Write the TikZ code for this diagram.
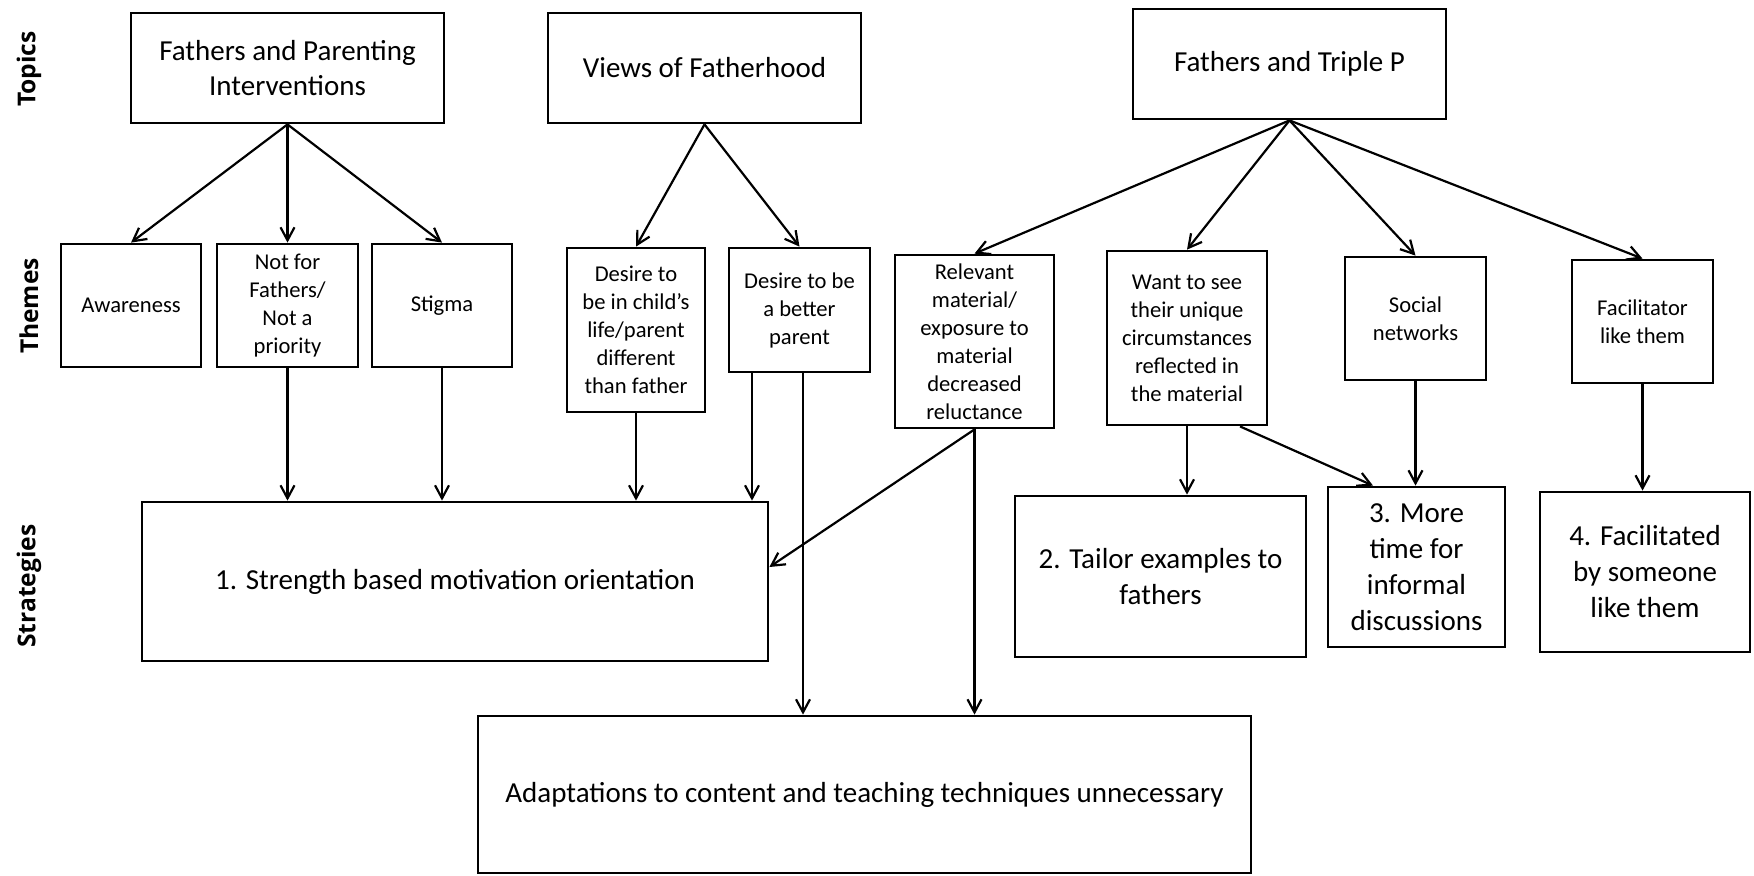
\documentclass[tikz,border=0pt]{standalone}
\usepackage{fontspec}
\setmainfont{Carlito}
\newfontfamily\labelfont{Open Sans}
\usetikzlibrary{arrows.meta, positioning}

\tikzset{
  box/.style={draw, line width=1.4pt, align=center, inner sep=2pt},
  boxsize/.style 2 args={minimum width=#1*0.5pt, minimum height=#2*0.5pt},
  topic/.style={box, font=\fontsize{14.5}{17.5}\selectfont},
  theme/.style={box, font=\fontsize{11.3}{14}\selectfont},
  strategy/.style={box, font=\fontsize{14.5}{18}\selectfont},
  rowlabel/.style={rotate=90, font=\labelfont\fontsize{12.3}{14}\selectfont\bfseries},
  link/.style={->, line width=1.1pt},
}

\begin{document}
\begin{tikzpicture}[x=0.5pt, y=-0.5pt, >={Straight Barb[length=6.5pt, width=7pt]}]
\useasboundingbox (0,0) rectangle (1754,875);

% Row labels
\node[rowlabel] (lbltopics) at (29,69) {Topics};
\node[rowlabel] (lblthemes) at (29,306) {Themes};
\node[rowlabel] (lblstrat) at (29,586) {Strategies};

% Topics
\node[topic, boxsize={313}{110}] (fpi) at (287.5,68) {Fathers and Parenting\\Interventions};
\node[topic, boxsize={313}{110}] (vof) at (704.5,68) {Views of Fatherhood};
\node[topic, boxsize={313}{110}] (ftp) at (1289.5,64) {Fathers and Triple P};

% Themes
\node[theme, boxsize={140}{123}] (aware) at (131,305.5) {Awareness};
\node[theme, boxsize={141}{123}] (notfor) at (287.5,305.5) {Not for\\Fathers/\\Not a\\priority};
\node[theme, boxsize={140}{123}] (stigma) at (442,305.5) {Stigma};
\node[theme, boxsize={138}{164}] (dchild) at (636,330) {Desire to\\be in child’s\\life/parent\\different\\than father};
\node[theme, boxsize={141}{124}] (dbetter) at (799.5,310) {Desire to be\\a better\\parent};
\node[theme, boxsize={159}{173}] (relev) at (974.5,341.5) {Relevant\\material/\\exposure to\\material\\decreased\\reluctance};
\node[theme, boxsize={160}{174}] (want) at (1187,338) {Want to see\\their unique\\circumstances\\reflected in\\the material};
\node[theme, boxsize={141}{123}] (social) at (1415.5,318.5) {Social\\networks};
\node[theme, boxsize={141}{123}] (facil) at (1642.5,321.5) {Facilitator\\like them};

% Strategies
\node[strategy, boxsize={626}{159}] (s1) at (455,581.5) {1. Strength based motivation orientation};
\node[strategy, boxsize={291}{161}] (s2) at (1160.5,576.5) {2. Tailor examples to\\fathers};
\node[strategy, boxsize={177}{160}] (s3) at (1416.5,567) {3. More\\time for\\informal\\discussions};
\node[strategy, boxsize={210}{160}] (s4) at (1645,572) {4. Facilitated\\by someone\\like them};
\node[strategy, boxsize={773}{157}] (adapt) at (864.5,794.5) {Adaptations to content and teaching techniques unnecessary};

% Topics to themes
\draw[link] (fpi.south) -- (aware.north);
\draw[link] (fpi.south) -- (notfor.north);
\draw[link] (fpi.south) -- (stigma.north);
\draw[link] (vof.south) -- (dchild.north);
\draw[link] (vof.south) -- (dbetter.north);
\draw[link] (ftp.south) -- (relev.north);
\draw[link] (ftp.south) -- (want.north);
\draw[link] (ftp.south) -- (social.north);
\draw[link] (ftp.south) -- (facil.north);

% Themes to strategies
\draw[link] (notfor.south) -- (notfor.south |- s1.north);
\draw[link] (stigma.south) -- (stigma.south |- s1.north);
\draw[link] (dchild.south) -- (dchild.south |- s1.north);
\draw[link] (dbetter.south -| 752,0) -- (s1.north -| 752,0);
\draw[link] (dbetter.south -| 803,0) -- (adapt.north -| 803,0);
\draw[link] (relev.south) -- (s1.east |- 0,567);
\draw[link] (relev.south) -- (relev.south |- adapt.north);
\draw[link] (want.south) -- (want.south |- s2.north);
\draw[link] (want.south -| 1240,0) -- (s3.north -| 1373,0);
\draw[link] (social.south) -- (social.south |- s3.north);
\draw[link] (facil.south) -- (facil.south |- s4.north);

\end{tikzpicture}
\end{document}
